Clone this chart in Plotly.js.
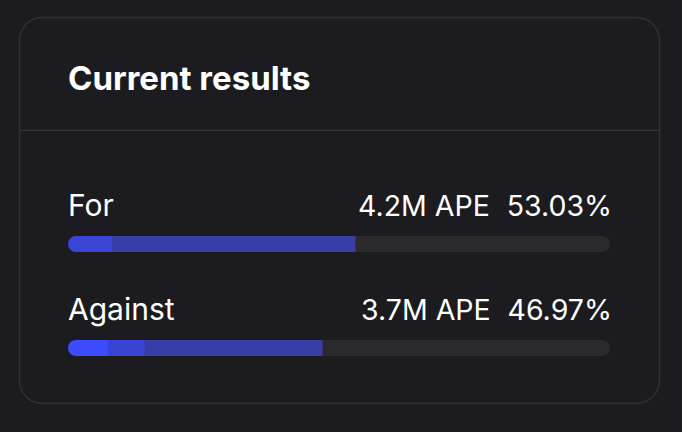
<!DOCTYPE html>
<html>
<head>
<meta charset="utf-8">
<script src="https://cdn.plot.ly/plotly-3.0.1.min.js"></script>
<style>
  html, body { margin: 0; padding: 0; background: #1c1c20; }
  #chart { width: 682px; height: 432px; }
</style>
</head>
<body>
<div id="chart"></div>
<script>
// ---- data ----
const categories = ['For', 'Against'];
const amountLabels = ['4.2M APE', '3.7M APE'];
const percentLabels = ['53.03%', '46.97%'];
// each vote bar split into segments (percent of total)
const forSegments = [8.1, 44.93];
const againstSegments = [7.3, 6.9, 32.77];
const forColors = ['#3a45d8', '#383da6'];
const againstColors = ['#3d4bff', '#3943d4', '#383da6'];
const trackColor = '#2a2a2c';
const trackTotal = 100;

// ---- geometry (pixels) ----
const W = 682, H = 432;
const plotL = 68, plotR = 610, plotT = 140, plotB = 400;
const rowGap = 104, barPx = 16;
const barWidth = barPx / rowGap;
const capOverlap = 1.8; // in axis units, hides the rounded right end of the first segment

function buildTraces(cat, segs, colors) {
  const traces = [];
  const first = segs[0];
  // grey track, starts under the first segment
  traces.push({type: 'bar', orientation: 'h', y: [cat], x: [trackTotal - first / 2], base: [first / 2],
    width: barWidth, marker: {color: trackColor, cornerradius: barPx / 2, line: {width: 0}},
    hoverinfo: 'skip', showlegend: false});
  // first segment, rounded on the left
  traces.push({type: 'bar', orientation: 'h', y: [cat], x: [-(first + capOverlap)], base: [first + capOverlap],
    width: barWidth, marker: {color: colors[0], cornerradius: barPx / 2, line: {width: 0}},
    hoverinfo: 'skip', showlegend: false});
  let start = first;
  segs.slice(1).forEach((v, j) => {
    traces.push({type: 'bar', orientation: 'h', y: [cat], x: [v], base: [start],
      width: barWidth, marker: {color: colors[j + 1], cornerradius: 0, line: {width: 0}},
      hoverinfo: 'skip', showlegend: false});
    start += v;
  });
  return traces;
}

const data = [].concat(
  buildTraces(categories[0], forSegments, forColors),
  buildTraces(categories[1], againstSegments, againstColors)
);

// pixel -> paper helpers for card decoration
const px = x => (x - plotL) / (plotR - plotL);
const py = y => (plotB - y) / (plotB - plotT);
function roundRect(x0, y0, x1, y1, r) {
  const k = 0.5523 * r;
  const P = (x, y) => px(x) + ',' + py(y);
  return 'M' + P(x0 + r, y0) +
    ' L' + P(x1 - r, y0) +
    ' C' + P(x1 - r + k, y0) + ' ' + P(x1, y0 + r - k) + ' ' + P(x1, y0 + r) +
    ' L' + P(x1, y1 - r) +
    ' C' + P(x1, y1 - r + k) + ' ' + P(x1 - r + k, y1) + ' ' + P(x1 - r, y1) +
    ' L' + P(x0 + r, y1) +
    ' C' + P(x0 + r - k, y1) + ' ' + P(x0, y1 - r + k) + ' ' + P(x0, y1 - r) +
    ' L' + P(x0, y0 + r) +
    ' C' + P(x0, y0 + r - k) + ' ' + P(x0 + r - k, y0) + ' ' + P(x0 + r, y0) + ' Z';
}

const fontFam = 'Inter, "Noto Sans", sans-serif';
const annotations = [];
categories.forEach((c, i) => {
  annotations.push({x: 0, y: c, xref: 'x', yref: 'y', text: c, showarrow: false,
    xanchor: 'left', yanchor: 'middle', yshift: 39, xshift: -2,
    font: {family: fontFam, size: 30, color: '#ffffff'}});
  annotations.push({x: trackTotal, y: c, xref: 'x', yref: 'y',
    text: amountLabels[i] + '\u2002\u200a' + percentLabels[i], showarrow: false,
    xanchor: 'right', yanchor: 'middle', yshift: 39, xshift: 4,
    font: {family: fontFam, size: 28.5, color: '#ffffff'}});
});

const layout = {
  width: W, height: H,
  paper_bgcolor: '#1c1c20', plot_bgcolor: 'rgba(0,0,0,0)',
  margin: {l: plotL, r: W - plotR, t: plotT, b: H - plotB, pad: 0},
  barmode: 'overlay',
  title: {text: '<b>Current results</b>', xref: 'container', yref: 'container',
    x: 68 / W, xanchor: 'left', y: 1 - 78 / H, yanchor: 'middle',
    font: {family: fontFam, size: 33, color: '#ffffff'}},
  xaxis: {range: [0, trackTotal], visible: false, fixedrange: true},
  yaxis: {type: 'category', categoryarray: categories, range: [1.5, -1], visible: false, fixedrange: true},
  shapes: [
    {type: 'path', xref: 'paper', yref: 'paper', path: roundRect(19.5, 17.5, 659.5, 403.5, 23),
      line: {color: '#2f2f34', width: 1.5}, fillcolor: 'rgba(0,0,0,0)', layer: 'below'},
    {type: 'line', xref: 'paper', yref: 'paper', x0: px(19.5), x1: px(659.5), y0: py(130.5), y1: py(130.5),
      line: {color: '#333337', width: 1.5}, layer: 'below'}
  ],
  annotations: annotations,
  showlegend: false
};

Plotly.newPlot('chart', data, layout, {displayModeBar: false, staticPlot: true});
</script>
</body>
</html>
